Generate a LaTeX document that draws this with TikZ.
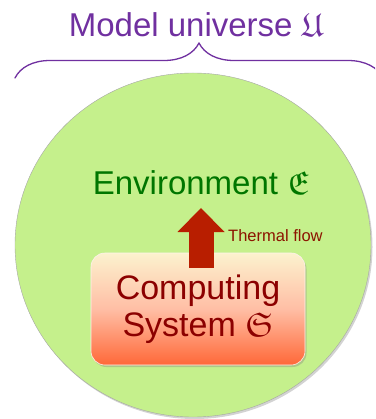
\documentclass[tikz,border=0pt]{standalone}
\usepackage{fontspec}
\setmainfont{Liberation Sans}
\usepackage{amssymb}
\usetikzlibrary{shapes.geometric,shadows,arrows.meta,decorations.pathreplacing}
\definecolor{universepurple}{RGB}{112,48,160}
\definecolor{envgreen}{RGB}{0,118,0}
\definecolor{blobgreen}{RGB}{197,240,140}
\definecolor{sysred}{RGB}{140,0,0}
\definecolor{flowred}{RGB}{184,30,0}
\definecolor{flowtext}{RGB}{140,20,0}
\definecolor{boxtop}{RGB}{252,242,206}
\definecolor{boxmid}{RGB}{255,190,165}
\definecolor{boxbot}{RGB}{255,104,56}

\begin{document}
\begin{tikzpicture}[line cap=round,line join=round,x=1pt,y=-1pt,
	universe/.style={ellipse,fill=blobgreen,draw=black!35,line width=0.4pt,
		minimum width=356pt,minimum height=344pt,inner sep=0pt,
		drop shadow={opacity=0.35,shadow xshift=1.5pt,shadow yshift=-2pt}},
	sysbox/.style={rounded corners=14pt,minimum width=214pt,minimum height=112pt,
		top color=boxtop,bottom color=boxbot,middle color=boxmid,draw=white!80!boxmid,
		line width=0.6pt,text=sysred,align=center,inner sep=0pt,
		font=\fontsize{34}{37}\selectfont,
		drop shadow={opacity=0.35,shadow xshift=1.5pt,shadow yshift=-2pt}},
	flowarrow/.style={line cap=butt,line width=25pt,draw=flowred,
		-{Triangle[width=47pt,length=24pt,line width=0pt]}},
	universebrace/.style={decorate,decoration={brace,amplitude=35pt},
		draw=universepurple,line width=1.3pt}]
	\clip (0,0) rectangle (375,419);
	% universe and the parts in it
	\node[universe] (universe) at (193,245) {};
	\node[anchor=base,text=universepurple,font=\fontsize{33}{40}\selectfont] (title) at (196,37) {Model universe $\mathfrak{U}$};
	\coordinate (braceL) at (15,78);
	\coordinate (braceR) at (383,78);
	\draw[universebrace] (braceL) -- (braceR);
	\node[anchor=base,text=envgreen,font=\fontsize{33}{40}\selectfont,inner sep=0pt] (env) at (201,195) {Environment $\mathfrak{E}$};
	\node[sysbox] (system) at (198,309) {Computing\\System $\mathfrak{S}$};
	\coordinate (flowtip) at (201,208);
	\draw[flowarrow] ([xshift=3pt,yshift=-15pt]system.north) -- (flowtip);
	\node[anchor=base west,text=flowtext,font=\fontsize{16.5}{20}\selectfont,inner sep=0pt] (flowlabel) at (228,241) {Thermal flow};
\end{tikzpicture}
\end{document}
